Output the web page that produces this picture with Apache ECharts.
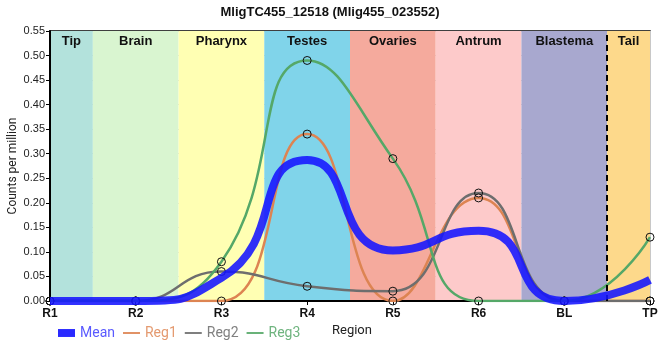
<!DOCTYPE html>
<html>
<head>
<meta charset="utf-8">
<script src="https://cdn.jsdelivr.net/npm/echarts@6/dist/echarts.min.js"></script>
<style>html,body{margin:0;padding:0;background:#fff;}#c{width:660px;height:360px;}</style>
</head>
<body>
<div id="c"></div>
<script>
var categories = ['R1','R2','R3','R4','R5','R6','BL','TP'];
var reg1 = [0, 0, 0, 0.34, 0, 0.21, 0, 0];
var reg2 = [0, 0, 0.06, 0.03, 0.02, 0.22, 0, 0];
var reg3 = [0, 0, 0.08, 0.49, 0.29, 0, 0, 0.13];
var meanVals = [0, 0, 0.047, 0.287, 0.103, 0.143, 0, 0.043];
var bandNames = ['Tip','Brain','Pharynx','Testes','Ovaries','Antrum','Blastema','Tail'];
var bandStarts = [0, 0.5, 1.5, 2.5, 3.5, 4.5, 5.5, 6.5];
var bandEnds = [0.5, 1.5, 2.5, 3.5, 4.5, 5.5, 6.5, 7];
var bandColors = ['#b3e2dc','#d9f5d0','#ffffb3','#80d4ea','#f5aa9d','#fdcaca','#a8a8cf','#fdd98b'];
var yTicks = {min: 0, max: 0.55, interval: 0.05};

function pairs(arr){ return arr.map(function(v,i){ return [i, v]; }); }

var areas = bandNames.map(function(n,i){
  return [{xAxis: bandStarts[i], name: n, itemStyle:{color: bandColors[i]}}, {xAxis: bandEnds[i]}];
});

var chart = echarts.init(document.getElementById('c'));
var markerStyle = {color: 'rgba(0,0,0,0)', borderColor: '#111', borderWidth: 1};
function regSeries(name, data, color){
  return {
    name: name, type: 'line', data: pairs(data), smooth: 0.5,
    symbol: 'circle', symbolSize: 8, showAllSymbol: true,
    itemStyle: markerStyle,
    lineStyle: {color: color, width: 2.5},
    z: 3
  };
}
var lineIcon = 'path://M0,4 L24,4 L24,6.5 L0,6.5 Z';
var rectIcon = 'path://M0,0 L15,0 L15,7 L0,7 Z';
chart.setOption({
  animation: false,
  title: {text: 'MligTC455_12518 (Mlig455_023552)', left: 'center', top: 1,
    textStyle: {fontFamily: 'Liberation Sans', fontWeight: 'bold', fontSize: 13, color: '#111'}},
  grid: {left: 50, right: 10, top: 31, bottom: 59, show: true, borderColor: '#000', borderWidth: 1.5,
    containLabel: false, outerBoundsMode: 'none'},
  legend: {
    left: 53, top: 321, itemWidth: 17, itemHeight: 9, itemGap: 8, symbolKeepAspect: true,
    textStyle: {fontFamily: 'Roboto', fontSize: 14},
    data: [
      {name: 'Mean', icon: rectIcon, itemStyle: {color: '#2a2aff', borderWidth: 0}, textStyle: {color: '#5a5aff'}},
      {name: 'Reg1', icon: lineIcon, itemStyle: {color: '#dd8452', borderWidth: 0}, textStyle: {color: '#e49a70'}},
      {name: 'Reg2', icon: lineIcon, itemStyle: {color: '#6e6e6e', borderWidth: 0}, textStyle: {color: '#808080'}},
      {name: 'Reg3', icon: lineIcon, itemStyle: {color: '#55a868', borderWidth: 0}, textStyle: {color: '#6fb47f'}}
    ]
  },
  graphic: [{type: 'text', left: 332, top: 324,
    style: {text: 'Region', font: '13px Roboto', fill: '#222'}}],
  xAxis: {
    type: 'value', min: 0, max: 7, interval: 1,
    axisLine: {show: true, lineStyle: {color: '#000', width: 2}},
    axisTick: {show: true, length: 4, lineStyle: {color: '#000'}},
    axisLabel: {formatter: function(v){ return categories[v] || ''; }, color: '#111',
      fontFamily: 'Liberation Sans', fontWeight: 'bold', fontSize: 12, margin: 7},
    splitLine: {show: true, lineStyle: {color: '#c8c8c8', width: 1}}
  },
  yAxis: {
    type: 'value', min: yTicks.min, max: yTicks.max, interval: yTicks.interval,
    name: 'Counts per million', nameLocation: 'middle', nameGap: 31, nameMoveOverlap: false,
    nameTextStyle: {fontFamily: 'Roboto', fontSize: 12, color: '#222'},
    axisLine: {show: true, lineStyle: {color: '#000', width: 2}},
    axisTick: {show: true, length: 4, lineStyle: {color: '#000'}},
    axisLabel: {formatter: function(v){ return v.toFixed(2); }, color: '#222',
      fontFamily: 'Liberation Sans', fontSize: 11, margin: 5},
    splitLine: {show: true, lineStyle: {color: '#c8c8c8', width: 1}}
  },
  series: [
    {
      name: 'Mean', type: 'line', data: pairs(meanVals), smooth: 0.6,
      symbol: 'none', lineStyle: {color: 'rgba(20,20,255,0.88)', width: 8},
      itemStyle: {color: '#2a2aff'}, z: 5,
      markArea: {silent: true, z: 0,
        label: {show: true, position: 'insideTop', distance: 4, color: '#111',
          fontFamily: 'Liberation Sans', fontWeight: 'bold', fontSize: 13},
        data: areas},
      markLine: {silent: true, symbol: 'none', label: {show: false},
        lineStyle: {color: '#000', type: [6, 4], width: 2},
        data: [{xAxis: 6.5}]}
    },
    regSeries('Reg1', reg1, '#dd8452'),
    regSeries('Reg2', reg2, '#6e6e6e'),
    regSeries('Reg3', reg3, '#55a868')
  ]
});
</script>
</body>
</html>
